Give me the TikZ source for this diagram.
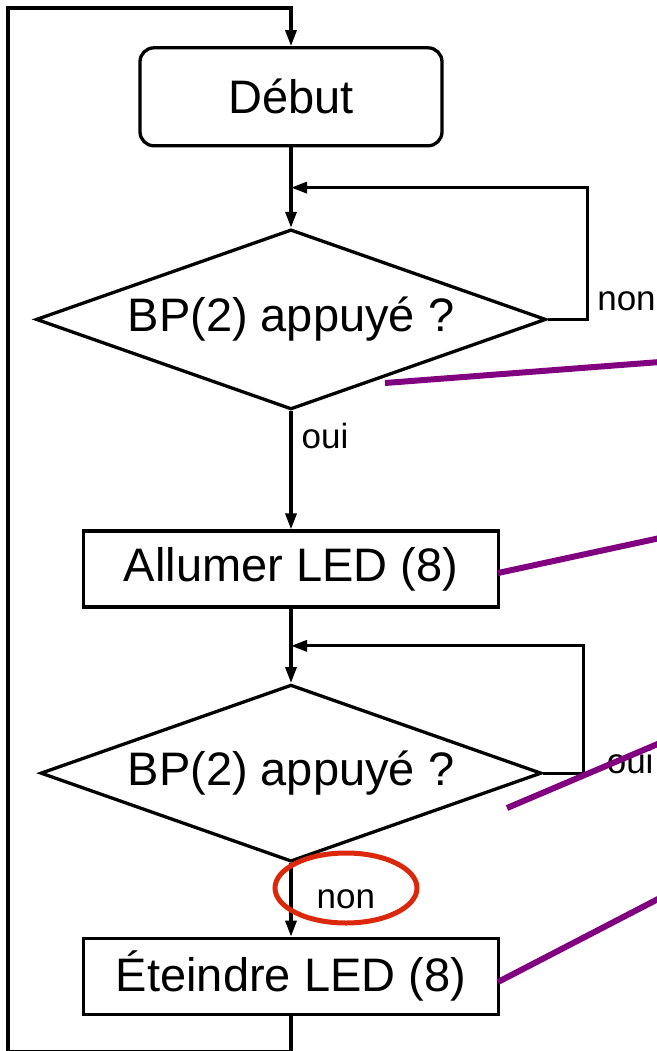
\documentclass[tikz,border=0pt]{standalone}
\usepackage{fontspec}
\setmainfont{Liberation Sans}
\usepackage{tikz}
\usetikzlibrary{matrix}
\usetikzlibrary{arrows.meta}
\usetikzlibrary{shapes.geometric}
\usetikzlibrary{calc}

\definecolor{noteviolet}{RGB}{128,0,128}
\definecolor{markred}{RGB}{220,40,10}

\tikzset{
  debutbox/.style={draw,rounded corners=14pt,minimum width=302pt,minimum height=98pt,inner sep=0pt},
  testbox/.style={draw,diamond,shape aspect=2.83,minimum width=510pt,minimum height=180pt,inner sep=0pt},
  actionbox/.style={draw,rectangle,minimum width=415pt,minimum height=76pt,inner sep=0pt},
  lbl/.style={font=\fontsize{35}{40}\selectfont,inner sep=0pt},
  note/.style={noteviolet,line width=6pt}
}

\begin{document}
\begin{tikzpicture}[x=1pt,y=-1pt,>={Triangle[length=16pt,width=11pt]},line width=3.3pt]
    \useasboundingbox (0,0) rectangle (656,1051);
    \matrix[matrix of nodes, anchor=north, inner sep=0pt,
    row sep=0pt,
    nodes={font=\fontsize{47}{56}\selectfont}]
    at (291,44.5)
    {
      |[name=debut,debutbox]| Début \\[81pt]
      |[name=test1,testbox]| BP(2) appuyé ? \\[119pt]
      |[name=allumer,actionbox]| Allumer LED (8) \\[75pt]
      |[name=test2,testbox,minimum width=501pt,minimum height=177pt]| BP(2) appuyé ? \\[74pt]
      |[name=eteindre,actionbox]| Éteindre LED (8) \\
    };
    \coordinate (j1) at ($(debut.south)!0.5!(test1.north)$);
    \coordinate (j2) at ($(allumer.south)!0.5!(test2.north)$);
    \node[lbl,anchor=base west] (non1) at ($(test1.east)+(48,-9)$) {non};
    \node[lbl,anchor=base west] (oui1) at ($(test1.south)+(9,37)$) {oui};
    \node[lbl,anchor=base west] (oui2) at ($(test2.east)+(62,0)$) {oui};
    \node[lbl,anchor=base west] (non2) at ($(test2.south)+(24,45)$) {non};
    \draw[->]
      (debut) edge (test1)
      (test1) edge (allumer)
      (allumer) edge (test2)
      (test2) edge (eteindre);
    \draw[->] (test1.east) -- ++(40,0) |- (j1);
    \draw[->] (test2.east) -- ++(40,0) |- (j2);
    \draw[->] (eteindre.south) -- ++(0,36) -| (8,8) -| (debut.north);
    % ellipse round the answer
    \draw[markred,line width=5pt] (346,888) ellipse (71pt and 35pt);
    % lines to the notes
    \coordinate (n1a) at (385,383);
    \coordinate (n1b) at (660,362);
    \coordinate (n2a) at (498,573);
    \coordinate (n2b) at (660,538);
    \coordinate (n3a) at (507,808);
    \coordinate (n3b) at (660,743);
    \coordinate (n4a) at (498,982);
    \coordinate (n4b) at (660,898);
    \draw[note] (n1a) -- (n1b);
    \draw[note] (n2a) -- (n2b);
    \draw[note] (n3a) -- (n3b);
    \draw[note] (n4a) -- (n4b);
  \end{tikzpicture}
\end{document}
